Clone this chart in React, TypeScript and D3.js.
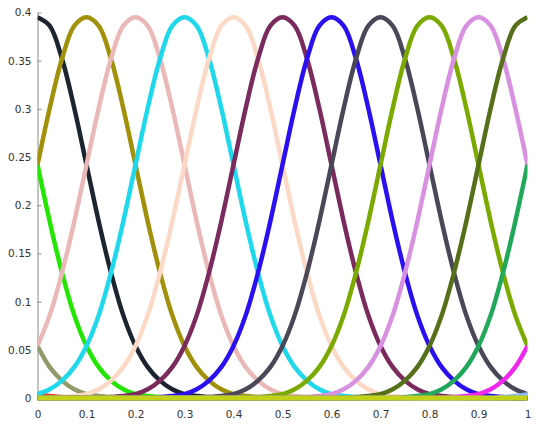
import React from "react";
import * as d3 from "d3";

// bell shape: value at |x - center| = 0, 0.025, 0.05, ...
const profile = [
  0.395, 0.386, 0.352, 0.301, 0.242, 0.183, 0.13, 0.086, 0.054, 0.032, 0.018,
  0.009, 0.004, 0.002, 0.001, 0.0, 0.0,
];
const step = 0.025;

// curve centers and their colours, drawn in this order (last one on top)
const centers = [
  -0.3, -0.2, -0.1, 0, 0.1, 0.2, 0.3, 0.4, 0.5, 0.6, 0.7, 0.8, 0.9, 1.0, 1.1,
  1.2, 1.3, 1.4,
];
const colors = [
  "#e0402a", "#8f9c6a", "#22e600", "#1c2430", "#a0900a", "#ebb8b8",
  "#20d8ec", "#fcd9c6", "#7a2a5c", "#2a10f0", "#4a4858", "#7aaa00",
  "#d890e0", "#56701a", "#22a85a", "#f028ee", "#88b4f0", "#c2d218",
];

const xTicks = [0, 0.1, 0.2, 0.3, 0.4, 0.5, 0.6, 0.7, 0.8, 0.9, 1];
const xTickLabels = ["0", "0.1", "0.2", "0.3", "0.4", "0.5", "0.6", "0.7", "0.8", "0.9", "1"];
const yTicks = [0, 0.05, 0.1, 0.15, 0.2, 0.25, 0.3, 0.35, 0.4];
const yTickLabels = ["0", "0.05", "0.1", "0.15", "0.2", "0.25", "0.3", "0.35", "0.4"];

const W = 550;
const H = 427;

export default class App extends React.Component {
  node: SVGSVGElement | null = null;

  componentDidMount() {
    const x = d3.scaleLinear().domain([0, 1]).range([37.5, 527.5]);
    const y = d3.scaleLinear().domain([0, 0.4]).range([398, 12.5]);

    const svg = d3.select(this.node);
    svg.selectAll("*").remove();

    svg
      .append("defs")
      .append("clipPath")
      .attr("id", "plotclip")
      .append("rect")
      .attr("x", x(0))
      .attr("y", 0)
      .attr("width", x(1) - x(0))
      .attr("height", H);

    const yAxis = d3
      .axisLeft(y)
      .tickValues(yTicks)
      .tickFormat((d, i) => yTickLabels[i])
      .tickSize(-4)
      .tickSizeOuter(0)
      .tickPadding(6);
    const gy = svg
      .append("g")
      .attr("transform", `translate(${x(0)},0)`)
      .call(yAxis);
    gy.select(".domain").attr("stroke", "#8a8a8a");
    gy.selectAll(".tick line").attr("stroke", "#8a8a8a");

    const xAxis = d3
      .axisBottom(x)
      .tickValues(xTicks)
      .tickFormat((d, i) => xTickLabels[i])
      .tickSize(0)
      .tickPadding(13);
    const gx = svg
      .append("g")
      .attr("transform", `translate(0,${y(0)})`)
      .call(xAxis);
    gx.select(".domain").remove();

    svg
      .selectAll(".tick text")
      .attr("font-family", "'DejaVu Sans', sans-serif")
      .attr("font-size", 10.5)
      .attr("fill", "#333");

    const grid = d3.range(0, 41).map(i => i * step);
    const line = d3
      .line<[number, number]>()
      .x(d => x(d[0]))
      .y(d => y(d[1]))
      .curve(d3.curveCatmullRom);

    const series = centers.map(c =>
      grid.map(gx0 => {
        const k = Math.round(Math.abs(gx0 - c) / step);
        return [gx0, k < profile.length ? profile[k] : 0] as [number, number];
      })
    );

    svg
      .append("g")
      .attr("clip-path", "url(#plotclip)")
      .selectAll("path")
      .data(series)
      .enter()
      .append("path")
      .attr("d", d => line(d))
      .attr("fill", "none")
      .attr("stroke", (d, i) => colors[i])
      .attr("stroke-width", (d, i) => (i === centers.length - 1 ? 5 : 4.5))
      .attr("stroke-linejoin", "round");
  }

  render() {
    return (
      <svg
        ref={node => (this.node = node)}
        width={W}
        height={H}
        style={{ position: "absolute", left: 0, top: 0, background: "#fff" }}
      />
    );
  }
}
